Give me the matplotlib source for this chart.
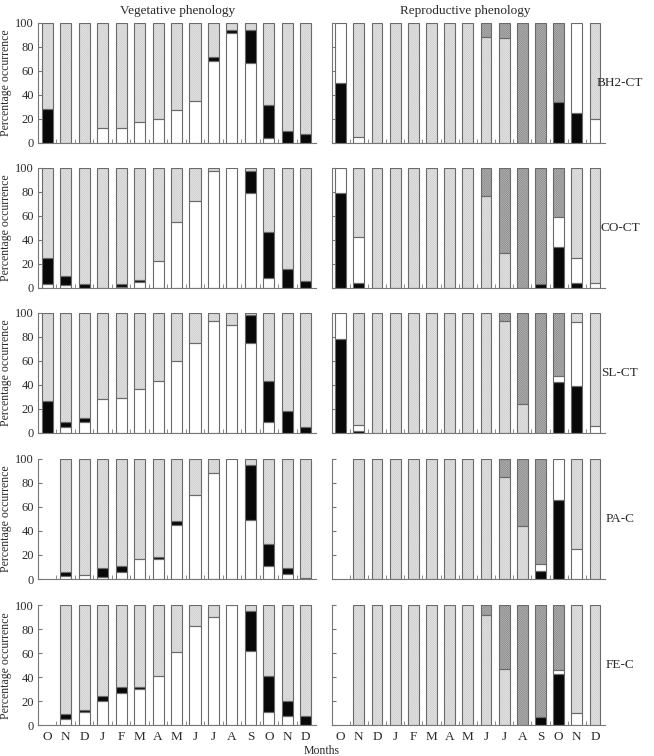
import numpy as np
import matplotlib
matplotlib.use("Agg")
import matplotlib.pyplot as plt

plt.rcParams["font.family"] = ["Liberation Serif", "DejaVu Serif"]
plt.rcParams["hatch.linewidth"] = 0.3

nan = np.nan

months = ["O", "N", "D", "J", "F", "M", "A", "M", "J", "J", "A", "S", "O", "N", "D"]
sites = ["BH2-CT", "CO-CT", "SL-CT", "PA-C", "FE-C"]

# ── Vegetative phenology (white bottom, black middle, light stipple = remainder) ──
veg_white = {
    "BH2-CT": [0, 0, 0, 12, 12, 17, 20, 27, 35, 68, 91, 66, 4, 0, 0],
    "CO-CT":  [3, 2, 0, 0, 1, 4.5, 22, 55, 72, 97, 100, 79, 8, 0, 0],
    "SL-CT":  [0, 5, 9, 28, 29, 36, 43, 60, 75, 93, 90, 75, 9, 0, 0],
    "PA-C":   [nan, 2.5, 3, 2, 6, 17, 17, 45, 70, 88, 100, 49, 11, 4, 0],
    "FE-C":   [nan, 5.5, 11, 20, 27, 30, 41, 61, 83, 90, 100, 62, 11, 8, 0],
}
veg_black = {
    "BH2-CT": [28, 0, 0, 0, 0, 0, 0, 0, 0, 3, 3, 28, 27, 10, 7],
    "CO-CT":  [22, 8, 3.5, 0, 2, 2, 0, 0, 0, 0, 0, 18, 38, 16, 6],
    "SL-CT":  [26, 4, 3, 0, 0, 0, 0, 0, 0, 0, 0, 23, 34, 18, 5],
    "PA-C":   [nan, 3.5, 0, 7.5, 4.5, 0, 1.5, 3, 0, 0, 0, 45.5, 18.5, 5, 1],
    "FE-C":   [nan, 3.5, 1.5, 4.5, 5, 2, 0, 0, 0, 0, 0, 33.5, 30, 12, 8],
}

# ── Reproductive phenology (black, white, light stipple = remainder, dark stipple) ──
rep_black = {
    "BH2-CT": [50, 0, 0, 0, 0, 0, 0, 0, 0, 0, 0, 0, 34, 25, 0],
    "CO-CT":  [79, 4, 0, 0, 0, 0, 0, 0, 0, 0, 0, 3.5, 33.5, 4, 0],
    "SL-CT":  [78, 1.5, 0, 0, 0, 0, 0, 0, 0, 0, 0, 0, 42, 39, 0],
    "PA-C":   [nan, 0, 0, 0, 0, 0, 0, 0, 0, 0, 0, 7, 66, 0, 0],
    "FE-C":   [nan, 0, 0, 0, 0, 0, 0, 0, 0, 0, 0, 7, 43, 0, 0],
}
rep_white = {
    "BH2-CT": [50, 5, 0, 0, 0, 0, 0, 0, 0, 0, 0, 0, 0, 75, 20],
    "CO-CT":  [21, 38, 0, 0, 0, 0, 0, 0, 0, 0, 0, 0, 25, 20.5, 4],
    "SL-CT":  [22, 5, 0, 0, 0, 0, 0, 0, 0, 0, 0, 0, 5, 53, 5.5],
    "PA-C":   [nan, 0, 0, 0, 0, 0, 0, 0, 0, 0, 0, 5.5, 34, 25, 0],
    "FE-C":   [nan, 0, 0, 0, 0, 0, 0, 0, 0, 0, 0, 0, 3, 10, 0],
}
rep_dark = {
    "BH2-CT": [0, 0, 0, 0, 0, 0, 0, 0, 12, 13, 100, 100, 66, 0, 0],
    "CO-CT":  [0, 0, 0, 0, 0, 0, 0, 0, 24, 71, 100, 96.5, 41.5, 0, 0],
    "SL-CT":  [0, 0, 0, 0, 0, 0, 0, 0, 0, 7, 76, 100, 53, 0, 0],
    "PA-C":   [nan, 0, 0, 0, 0, 0, 0, 0, 0, 15, 56, 87.5, 0, 0, 0],
    "FE-C":   [nan, 0, 0, 0, 0, 0, 0, 0, 8, 53, 100, 93, 54, 0, 0],
}

# ── Styles ─────────────────────────────────────────────
TXT = "#2a2a2a"
EDGE = "#6a6a6a"
STYLE = {
    "white": dict(fc="white", hatch=None, hc=None),
    "black": dict(fc="#080808", hatch=None, hc=None),
    "light": dict(fc="#eeeeee", hatch="x" * 18, hc="#cdcdcd"),
    "dark":  dict(fc="#c4c4c4", hatch="x" * 18, hc="#8a8a8a"),
}
BAR_W = 0.6


def draw_stack(ax, x, layers):
    """layers: list of (kind, values) bottom to top."""
    bottom = np.zeros(len(x))
    for kind, vals in layers:
        vals = np.nan_to_num(np.asarray(vals, dtype=float))
        st = STYLE[kind]
        mask = vals > 0
        if mask.any():
            if st["hatch"]:
                ax.bar(x[mask], vals[mask], BAR_W, bottom=bottom[mask],
                       color=st["fc"], edgecolor=st["hc"], hatch=st["hatch"],
                       linewidth=0, zorder=2)
            else:
                ax.bar(x[mask], vals[mask], BAR_W, bottom=bottom[mask],
                       color=st["fc"], linewidth=0, zorder=2)
            ax.bar(x[mask], vals[mask], BAR_W, bottom=bottom[mask],
                   fill=False, edgecolor=EDGE, linewidth=0.8, zorder=3)
        bottom = bottom + vals


def style_axes(ax, show_ylabels, show_xlabels):
    ax.set_xlim(-0.5, 14.55)
    ax.set_ylim(0, 100)
    for s in ("top", "right"):
        ax.spines[s].set_visible(False)
    for s in ("left", "bottom"):
        ax.spines[s].set_color("#777777")
        ax.spines[s].set_linewidth(0.8)
    ax.set_yticks(np.arange(0, 101, 20))
    ax.tick_params(axis="y", direction="in", length=3, color="#777777",
                   labelsize=9, labelcolor=TXT, pad=3, labelleft=show_ylabels)
    ax.set_xticks(np.arange(len(months)))
    ax.set_xticks(np.arange(0.5, len(months) - 0.5, 1), minor=True)
    ax.tick_params(axis="x", which="major", length=0, labelsize=9.5,
                   labelcolor=TXT, pad=4, labelbottom=show_xlabels)
    ax.tick_params(axis="x", which="minor", direction="in", length=3,
                   color="#777777")
    ax.set_xticklabels(months)


fig = plt.figure(figsize=(6.54, 7.56), dpi=100)
x = np.arange(len(months))

row_bottoms = [0.8112, 0.6194, 0.4276, 0.2341, 0.0406]
row_h = 0.159

for r, site in enumerate(sites):
    last = r == len(sites) - 1
    axv = fig.add_axes([0.0581, row_bottoms[r], 0.425, row_h])
    w = np.asarray(veg_white[site], dtype=float)
    b = np.asarray(veg_black[site], dtype=float)
    light = 100 - np.nan_to_num(w) - np.nan_to_num(b)
    light[np.isnan(w)] = 0
    draw_stack(axv, x, [("white", w), ("black", b), ("light", light)])
    style_axes(axv, True, last)
    axv.set_ylabel("Percentage occurrence", fontsize=8.5, color=TXT, labelpad=2)

    axr = fig.add_axes([0.507, row_bottoms[r], 0.418, row_h])
    bk = np.asarray(rep_black[site], dtype=float)
    wh = np.asarray(rep_white[site], dtype=float)
    dk = np.asarray(rep_dark[site], dtype=float)
    lt = 100 - np.nan_to_num(bk) - np.nan_to_num(wh) - np.nan_to_num(dk)
    lt[np.isnan(bk)] = 0
    draw_stack(axr, x, [("black", bk), ("white", wh), ("light", lt), ("dark", dk)])
    style_axes(axr, False, last)

    fig.text(0.948, row_bottoms[r] + row_h / 2, site, ha="center", va="center",
             fontsize=9.5, color=TXT)

fig.text(0.271, 0.985, "Vegetative phenology", ha="center", va="center",
         fontsize=9.5, color=TXT)
fig.text(0.711, 0.985, "Reproductive phenology", ha="center", va="center",
         fontsize=9.5, color=TXT)
fig.text(0.492, -0.001, "Months", ha="center", va="bottom", fontsize=8.5,
         color=TXT)

fig.savefig("out.png", dpi=100)
